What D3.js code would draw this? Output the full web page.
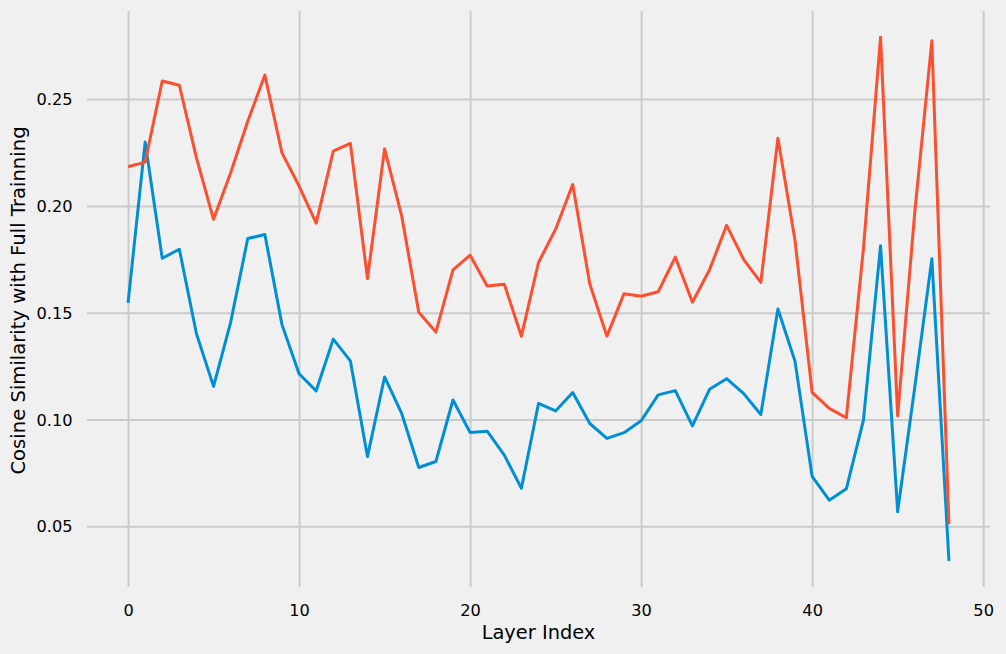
<!DOCTYPE html>
<html>
<head>
<meta charset="utf-8">
<script src="https://cdn.jsdelivr.net/npm/d3@7"></script>
<style>
  html, body { margin: 0; padding: 0; background: #f0f0f0; }
  svg { display: block; font-family: "DejaVu Sans", sans-serif; }
</style>
</head>
<body>
<svg id="chart" width="1006" height="654"></svg>
<script>
// Data
const layers = d3.range(0, 49);
const blueSeries = [0.1546, 0.2299, 0.1755, 0.1797, 0.1401, 0.1155, 0.1455, 0.1847, 0.1866, 0.1444,
  0.1214, 0.1134, 0.1376, 0.1274, 0.0826, 0.1199, 0.1028, 0.0775, 0.0803, 0.1091,
  0.0939, 0.0945, 0.0833, 0.0678, 0.1075, 0.1040, 0.1126, 0.0981, 0.0911, 0.0938,
  0.0994, 0.1115, 0.1135, 0.0970, 0.1141, 0.1191, 0.1121, 0.1023, 0.1517, 0.1272,
  0.0733, 0.0622, 0.0675, 0.0997, 0.1813, 0.0568, 0.1150, 0.1752, 0.0338];
const redSeries = [0.2183, 0.2205, 0.2585, 0.2565, 0.2225, 0.1937, 0.2155, 0.2396, 0.2613, 0.2248,
  0.2093, 0.1919, 0.2256, 0.2293, 0.1660, 0.2267, 0.1953, 0.1502, 0.1409, 0.1700,
  0.1769, 0.1625, 0.1633, 0.1390, 0.1735, 0.1891, 0.2100, 0.1634, 0.1390, 0.1589,
  0.1577, 0.1598, 0.1760, 0.1549, 0.1701, 0.1909, 0.1748, 0.1642, 0.2317, 0.1838,
  0.1127, 0.1052, 0.1008, 0.1800, 0.2790, 0.1017, 0.1970, 0.2773, 0.0510];
const xTicks = [0, 10, 20, 30, 40, 50];
const yTicks = [0.05, 0.10, 0.15, 0.20, 0.25];
const xLabel = "Layer Index";
const yLabel = "Cosine Similarity with Full Trainning";
const colors = ["#008fd5", "#fc4f30"];

const svg = d3.select("#chart");
const W = 1006, H = 654;
const m = { left: 87, right: 16, top: 11, bottom: 67 };

svg.append("rect").attr("width", W).attr("height", H).attr("fill", "#f0f0f0");

const xMin = 0, xMax = 48, xPad = (xMax - xMin) * 0.05;
const x = d3.scaleLinear().domain([xMin - xPad, xMax + xPad]).range([m.left, W - m.right]);
const all = blueSeries.concat(redSeries);
const yLo = d3.min(all), yHi = d3.max(all), yPad = (yHi - yLo) * 0.05;
const y = d3.scaleLinear().domain([yLo - yPad, yHi + yPad]).range([H - m.bottom, m.top]);

// Grid via axes
const gx = svg.append("g").attr("transform", `translate(0,${H - m.bottom})`)
  .call(d3.axisBottom(x).tickValues(xTicks).tickSize(-(H - m.top - m.bottom)).tickPadding(18).tickFormat(d3.format("d")));
const gy = svg.append("g").attr("transform", `translate(${m.left},0)`)
  .call(d3.axisLeft(y).tickValues(yTicks).tickSize(-(W - m.left - m.right)).tickPadding(14).tickFormat(d3.format(".2f")));

[gx, gy].forEach(g => {
  g.select(".domain").remove();
  g.selectAll(".tick line").attr("stroke", "#cbcbcb").attr("stroke-width", 2);
  g.selectAll(".tick text").attr("fill", "#000").attr("font-size", "16.2px")
    .attr("font-family", "DejaVu Sans, sans-serif");
});
gx.selectAll(".tick text").attr("dy", null).attr("y", 29);
gy.selectAll(".tick text").attr("x", -14.5).attr("dy", "0.35em");

const line = d3.line().x((d, i) => x(layers[i])).y(d => y(d));
[blueSeries, redSeries].forEach((s, k) => {
  svg.append("path").datum(s)
    .attr("fill", "none")
    .attr("stroke", colors[k])
    .attr("stroke-width", 3)
    .attr("stroke-linejoin", "round")
    .attr("d", line);
});

svg.append("text").attr("x", (m.left + W - m.right) / 2).attr("y", 639)
  .attr("text-anchor", "middle").attr("font-size", "19.4px").attr("fill", "#000").text(xLabel);
svg.append("text")
  .attr("transform", `translate(25,300.5) rotate(-90)`)
  .attr("text-anchor", "middle").attr("font-size", "19.6px").attr("fill", "#000").text(yLabel);
</script>
</body>
</html>
